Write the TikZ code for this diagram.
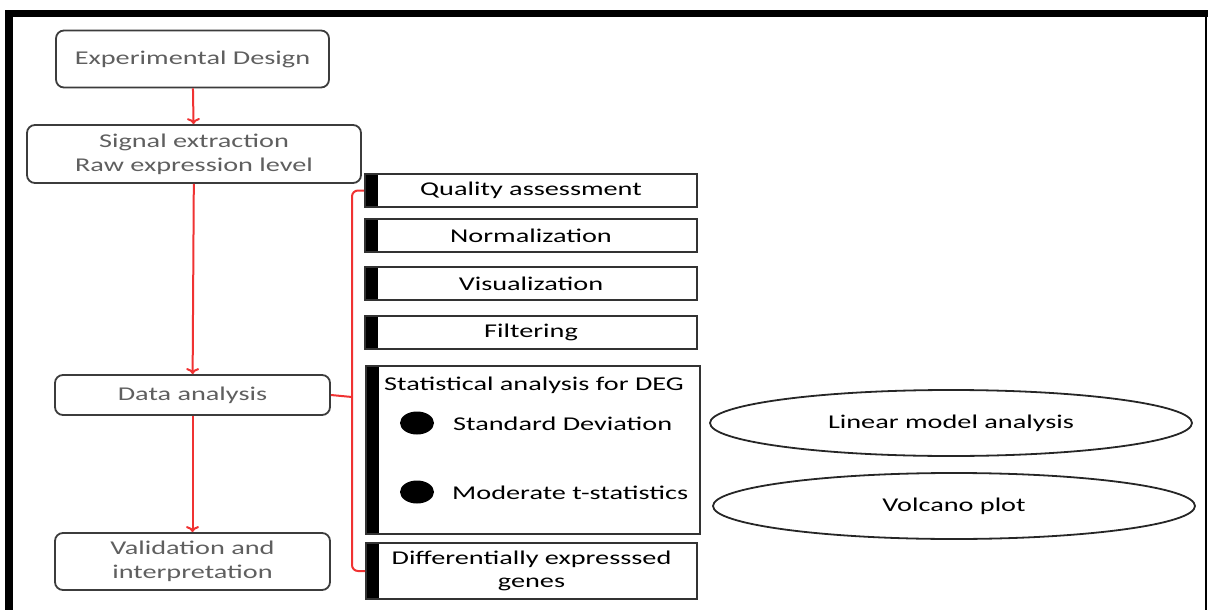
\documentclass[tikz,border=0pt]{standalone}
\usepackage{fontspec}
\setmainfont{Carlito}[FakeStretch=1.45]
\usetikzlibrary{shapes.geometric, arrows.meta}
\definecolor{flowred}{RGB}{240,50,50}
\definecolor{boxgray}{RGB}{60,60,60}
\definecolor{textgray}{RGB}{95,95,95}
\tikzstyle{stage} = [rectangle, rounded corners=8pt, draw=boxgray, line width=1.8pt, inner sep=0pt, text centered, align=center, text=textgray, font=\fontsize{19.5}{24}\selectfont]
\tikzstyle{task} = [rectangle, draw=black!80, line width=1.8pt, inner sep=0pt, minimum width=332pt, minimum height=33pt, align=center, font=\fontsize{19.5}{23}\selectfont, path picture={\fill[black] (path picture bounding box.north west) rectangle ([xshift=13pt]path picture bounding box.south west);}]
\tikzstyle{method} = [ellipse, draw=black!85, line width=1.8pt, inner sep=0pt, minimum width=482pt, minimum height=66pt, font=\fontsize{19.5}{23}\selectfont]
\tikzstyle{bullet} = [ellipse, fill=black, inner sep=0pt, minimum width=34pt, minimum height=23pt]
\tikzstyle{item} = [anchor=west, inner sep=0pt, font=\fontsize{19.5}{23}\selectfont]
\tikzstyle{arrow} = [flowred, line width=2pt, -{To[length=6pt,width=13pt]}]
\tikzstyle{brace} = [flowred, line width=2pt, rounded corners=6pt]

\begin{document}
\begin{tikzpicture}[x=1pt, y=-1pt]
            \useasboundingbox (0,0) rectangle (1208,610);
            % frame
            \fill [black] (5,10) rectangle (1208,17);
            \fill [black] (5,10) rectangle (13,610);
            \draw [line width=1.5pt] (1206,17) -- (1206,610);
            % main workflow
            \node [stage, minimum width=273pt, minimum height=57pt] at (192.5,59) (design) {Experimental Design};
            \node [stage, minimum width=334pt, minimum height=58pt] at (194,154) (signal) {Signal extraction\\Raw expression level};
            \node [stage, minimum width=275pt, minimum height=40pt] at (192.5,395) (analysis) {Data analysis};
            \node [stage, minimum width=275pt, minimum height=57pt] at (192.5,561.5) (valid) {Validation and\\interpretation};
            \draw [arrow] (design) -- (signal);
            \draw [arrow] (signal) -- (analysis);
            \draw [arrow] (analysis) -- (valid);
            % analysis steps
            \node [task] at (531,190.5) (quality) {Quality assessment};
            \node [task] at (531,235.5) (norm) {Normalization};
            \node [task] at (531,283.5) (visual) {Visualization};
            \node [task] at (531,332.5) (filter) {Filtering};
            \node [task, minimum width=334pt, minimum height=168pt] at (533,450) (stat) {};
            \node [inner sep=0pt, font=\fontsize{19.5}{23}\selectfont] at (534,385) (stattitle) {Statistical analysis for DEG};
            \node [bullet] at (417,423) (b1) {};
            \node [item] at (453,424) (sd) {Standard Deviation};
            \node [bullet] at (417,492) (b2) {};
            \node [item] at (452,493) (tstat) {Moderate t-statistics};
            \node [task, minimum width=331pt, minimum height=56pt] at (531.5,571) (deg) {Differentially expresssed\\genes};
            % methods
            \node [method] at (951,423) (linear) {Linear model analysis};
            \node [method] at (954,506) (volcano) {Volcano plot};
            % bracket
            \coordinate (fork) at (352,397);
            \draw [brace] (analysis.east) -- (fork);
            \draw [brace] (quality.west) -| (fork) |- (deg.west);
            \end{tikzpicture}
\end{document}
